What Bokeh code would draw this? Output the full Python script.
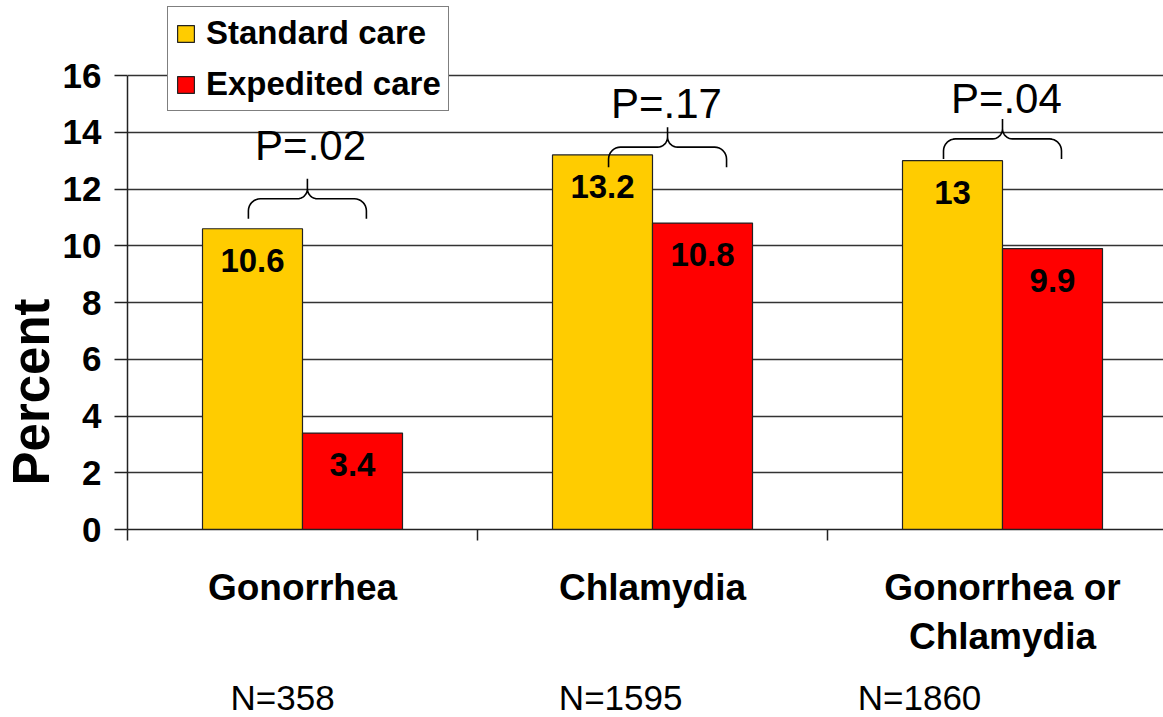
import math

from bokeh.core.properties import value
from bokeh.embed import file_html
from bokeh.models import (ColumnDataSource, FixedTicker, Grid, Legend,
                          LegendItem, LinearAxis, Range1d, Title)
from bokeh.plotting import figure
from bokeh.resources import INLINE

# ---- data -------------------------------------------------------------
categories = ["Gonorrhea", "Chlamydia", "Gonorrhea or\nChlamydia"]
sample_sizes = ["N=358", "N=1595", "N=1860"]
standard_care = [10.6, 13.2, 13.0]
expedited_care = [3.4, 10.8, 9.9]
p_values = ["P=.02", "P=.17", "P=.04"]
y_ticks = [0, 2, 4, 6, 8, 10, 12, 14, 16]

# ---- layout -----------------------------------------------------------
FONT = "Liberation Sans"
PX_PER_GROUP = 350            # horizontal pixels per category slot
FRAME_W, FRAME_H = 1036, 529
PX_PER_UNIT = 454 / 16        # vertical pixels per percent
X_END = FRAME_W / PX_PER_GROUP
Y_END = FRAME_H / PX_PER_UNIT
BAR_W = 100 / PX_PER_GROUP

YELLOW = "#FFCC00"
RED = "#FF0000"
INK = "#222222"

centers = [i + 0.5 for i in range(len(categories))]
n_label_x = [0.443, 1.409, 2.263]       # sample-size captions
brace_x = [0.514, 1.543, 2.5]           # brace tips
brace_tip = [12.36, 14.18, 14.47]
p_label_x = [0.523, 1.54, 2.511]
p_label_y = [13.53, 15.01, 15.19]

p = figure(frame_width=FRAME_W, frame_height=FRAME_H,
           x_range=Range1d(0, X_END), y_range=Range1d(0, Y_END),
           x_axis_type=None, y_axis_type=None,
           min_border_left=127, min_border_right=0, min_border_top=0,
           min_border_bottom=188,
           output_backend="svg", toolbar_location=None)
p.outline_line_color = None
p.background_fill_color = "white"
p.border_fill_color = "white"

# ---- axes -------------------------------------------------------------
yaxis = LinearAxis(ticker=FixedTicker(ticks=y_ticks), bounds=(0, 16),
                   axis_line_color=INK, axis_line_width=1.5,
                   major_tick_line_color=INK, major_tick_line_width=1.5,
                   major_tick_out=13, major_tick_in=0,
                   minor_tick_line_color=None,
                   major_label_text_font=FONT,
                   major_label_text_font_style="bold",
                   major_label_text_font_size="35px",
                   major_label_text_color="black",
                   major_label_standoff=13)
p.add_layout(yaxis, "left")

# axis title, anchored near the bottom of the value axis
p.add_layout(Title(text="Percent", align="left", offset=44, standoff=0,
                   text_font=FONT, text_font_style="bold",
                   text_font_size="51px", text_color="black"), "left")

p.add_layout(Grid(dimension=1, ticker=FixedTicker(ticks=y_ticks[1:]),
                  grid_line_color="#333333", grid_line_width=1.5))

xaxis = LinearAxis(ticker=FixedTicker(ticks=centers, minor_ticks=[0, 1, 2, 3]),
                   major_label_overrides={c: lab for c, lab in zip(centers, categories)},
                   axis_line_color=INK, axis_line_width=1.5,
                   major_tick_line_color=None, major_tick_out=0, major_tick_in=0,
                   minor_tick_line_color=INK, minor_tick_line_width=1.5,
                   minor_tick_out=11, minor_tick_in=0,
                   major_label_text_font=FONT,
                   major_label_text_font_style="bold",
                   major_label_text_font_size="37px",
                   major_label_text_color="black",
                   major_label_text_line_height=1.2,
                   major_label_standoff=26)
p.add_layout(xaxis, "below")

naxis = LinearAxis(ticker=FixedTicker(ticks=n_label_x, minor_ticks=[]),
                   major_label_overrides={x: s for x, s in zip(n_label_x, sample_sizes)},
                   axis_line_color=None, major_tick_line_color=None,
                   minor_tick_line_color=None, major_tick_out=0, major_tick_in=0,
                   major_label_text_font=FONT,
                   major_label_text_font_size="35px",
                   major_label_text_color="black",
                   major_label_standoff=18)
p.add_layout(naxis, "below")

# ---- bars -------------------------------------------------------------
src = ColumnDataSource(dict(
    xs=[c - BAR_W / 2 for c in centers],
    xe=[c + BAR_W / 2 for c in centers],
    standard=standard_care,
    expedited=expedited_care,
    standard_txt=[f"{v:g}" for v in standard_care],
    expedited_txt=[f"{v:g}" for v in expedited_care],
))
r_std = p.vbar(x="xs", top="standard", width=BAR_W, source=src,
               fill_color=YELLOW, line_color=INK, line_width=1.2)
r_exp = p.vbar(x="xe", top="expedited", width=BAR_W, source=src,
               fill_color=RED, line_color=INK, line_width=1.2)

for col, xcol in (("standard", "xs"), ("expedited", "xe")):
    p.text(x=xcol, y=col, text=col + "_txt", source=src,
           text_align="center", text_baseline="top", y_offset=20,
           text_font=value(FONT), text_font_style="bold",
           text_font_size="33px", text_color="black")


# ---- braces with p-values --------------------------------------------
def brace_path(cx, tip):
    half_w, h, r1, r2 = 59.0, 40.0, 12.0, 10.0
    left = [(-half_w, -h), (-half_w, -h / 2 - r1)]
    for k in range(1, 9):
        t = math.pi - k * (math.pi / 2) / 8
        left.append((-half_w + r1 + r1 * math.cos(t), -h / 2 - r1 + r1 * math.sin(t)))
    left.append((-r2, -h / 2))
    for k in range(1, 9):
        t = -math.pi / 2 + k * (math.pi / 2) / 8
        left.append((-r2 + r2 * math.cos(t), -h / 2 + r2 + r2 * math.sin(t)))
    left.append((0.0, 0.0))
    pts = left + [(-x, y) for x, y in reversed(left[:-1])]
    xs = [cx + x / PX_PER_GROUP for x, _ in pts]
    ys = [tip + y / PX_PER_UNIT for _, y in pts]
    return xs, ys


bx, by = zip(*(brace_path(c, t) for c, t in zip(brace_x, brace_tip)))
p.multi_line(xs=list(bx), ys=list(by), line_color="black", line_width=1.6)

p.text(x=p_label_x, y=p_label_y, text=p_values,
       text_align="center", text_baseline="alphabetic",
       text_font=value(FONT), text_font_size="42px", text_color="black")

# ---- legend -----------------------------------------------------------
legend = Legend(items=[LegendItem(label="Standard care", renderers=[r_std]),
                       LegendItem(label="Expedited care", renderers=[r_exp])],
                location=(40, 418), orientation="vertical",
                glyph_width=21, glyph_height=21, label_height=34,
                label_standoff=10, spacing=13, padding=7, margin=0,
                label_text_font=FONT, label_text_font_style="bold",
                label_text_font_size="33px", label_text_color="black",
                border_line_color="black", border_line_width=1.5,
                background_fill_color="white", background_fill_alpha=1.0)
p.add_layout(legend)

open("out.html", "w").write(file_html(p, INLINE))
